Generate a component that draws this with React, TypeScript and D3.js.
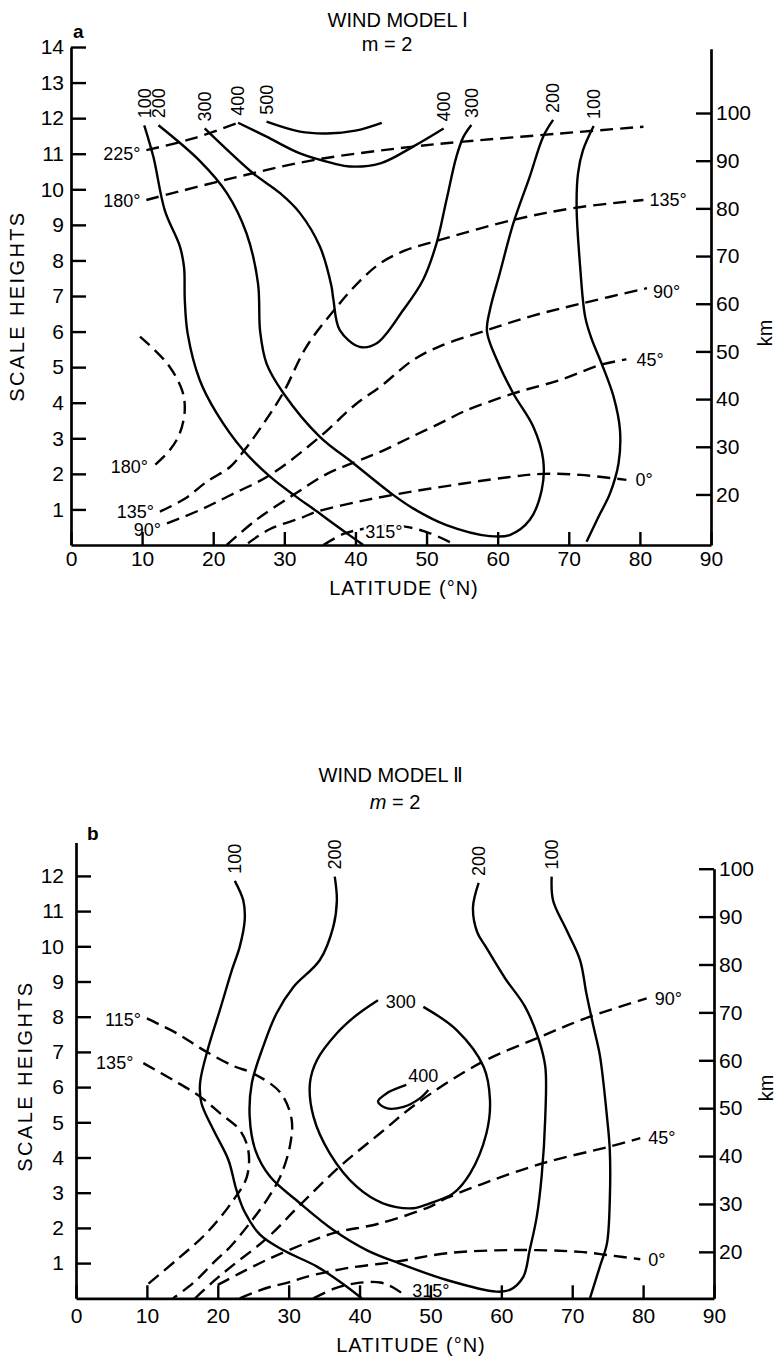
import { useEffect, useRef } from 'react';
import * as d3 from 'd3';

type Pt = [number, number]; // [latitude °N, scale heights]

// ---------- panel a : wind model I ----------
const A_AMP_100_L: Pt[] = [[10.3, 11.8], [11.6, 10.9], [13.2, 9.4], [15.3, 8.4], [15.9, 7.8], [16.0, 6.9], [16.4, 5.95], [18.1, 4.64], [20.5, 3.7], [24.2, 2.67], [28.0, 1.92], [31.3, 1.41], [34.6, 0.94], [37.8, 0.47], [41.1, 0.0]];
const A_AMP_200: Pt[] = [[12.3, 11.8], [18.1, 10.8], [21.9, 9.9], [24.7, 8.75], [26.3, 7.35], [26.6, 6.0], [27.5, 5.1], [29.9, 4.26], [35.0, 3.04], [39.7, 2.3], [45.3, 1.41], [48.1, 1.03], [52.8, 0.56], [58.9, 0.25], [61.7, 0.28], [64.5, 0.7], [66.2, 1.55], [66.4, 2.4], [65.0, 3.33], [62.2, 4.26], [59.9, 5.2], [58.5, 6.0], [58.9, 6.6], [60.3, 7.64], [62.2, 9.04], [64.5, 10.35], [66.4, 11.48], [67.8, 11.95]];
const A_AMP_300: Pt[] = [[18.8, 11.71], [21.0, 11.29], [25.6, 10.45], [29.4, 9.89], [32.2, 9.33], [35.0, 8.39], [36.6, 7.3], [36.9, 6.9], [37.8, 6.04], [40.6, 5.57], [43.0, 5.67], [46.7, 6.6], [49.5, 7.45], [51.4, 8.48], [52.8, 9.7], [54.2, 10.92], [55.2, 11.48], [56.3, 11.81]];
const A_AMP_400: Pt[] = [[23.5, 11.87], [27.5, 11.48], [32.2, 11.01], [36.9, 10.73], [39.2, 10.64], [43.5, 10.73], [48.1, 11.2], [52.4, 11.71]];
const A_AMP_500: Pt[] = [[27.5, 11.9], [32.2, 11.62], [36.0, 11.57], [40.0, 11.65], [43.7, 11.87]];
const A_AMP_100_R: Pt[] = [[73.5, 11.78], [72.0, 11.1], [71.3, 10.45], [71.1, 9.51], [71.6, 7.82], [72.3, 6.42], [73.2, 5.8], [74.6, 5.11], [76.3, 4.17], [77.2, 3.23], [77.0, 2.3], [75.8, 1.45], [74.2, 0.8], [72.5, 0.09]];

const A_PH_225: Pt[] = [[10.6, 11.1], [17.2, 11.43], [23.5, 11.87]];
const A_PH_180_TOP: Pt[] = [[10.6, 9.7], [22.4, 10.3], [34.1, 10.82], [48.1, 11.2], [55.2, 11.34], [68.8, 11.57], [80.5, 11.76]];
const A_PH_135: Pt[] = [[12.5, 0.94], [16.0, 1.3], [19.1, 1.78], [22.4, 2.2], [24.4, 2.67], [27.2, 3.45], [29.9, 4.3], [33.1, 5.57], [37.2, 6.65], [40.5, 7.4], [43.5, 7.92], [47.0, 8.28], [51.4, 8.55], [62.2, 9.14], [70.6, 9.47], [80.5, 9.7]];
const A_PH_90: Pt[] = [[13.5, 0.61], [18.1, 0.98], [22.4, 1.4], [28.0, 1.97], [35.0, 3.04], [40.0, 3.95], [43.5, 4.45], [48.1, 5.2], [52.0, 5.6], [58.5, 6.04], [65.0, 6.45], [72.0, 6.8], [81.0, 7.22]];
const A_PH_45: Pt[] = [[21.9, 0.0], [26.0, 0.7], [31.3, 1.41], [36.0, 2.0], [40.2, 2.35], [43.5, 2.62], [48.0, 3.05], [52.8, 3.51], [55.2, 3.75], [62.2, 4.26], [68.8, 4.64], [74.4, 5.06], [78.1, 5.22]];
const A_PH_0: Pt[] = [[24.9, 0.05], [28.0, 0.45], [32.2, 0.75], [34.6, 0.94], [40.0, 1.2], [45.3, 1.41], [55.2, 1.73], [62.0, 1.92], [66.4, 2.0], [71.6, 1.97], [78.1, 1.83]];
const A_PH_315: Pt[] = [[35.5, 0.0], [38.3, 0.31], [41.0, 0.45], [44.0, 0.55], [47.2, 0.51], [50.5, 0.33], [53.5, 0.06]];
const A_PH_180_LOW: Pt[] = [[9.7, 5.86], [13.5, 5.11], [15.6, 4.36], [16.0, 3.8], [15.3, 3.14], [13.9, 2.67], [11.8, 2.25]];

// ---------- panel b : wind model II ----------
const B_AMP_100_L: Pt[] = [[22.4, 11.86], [23.6, 11.3], [23.8, 10.75], [23.1, 9.99], [22.0, 9.33], [20.3, 8.19], [18.7, 7.15], [17.5, 6.11], [17.7, 5.54], [19.4, 4.78], [21.5, 3.93], [22.6, 3.1], [23.8, 2.45], [26.0, 1.8], [29.2, 1.37], [34.0, 0.9], [38.2, 0.33], [40.3, 0.0]];
const B_AMP_200: Pt[] = [[36.5, 11.98], [36.8, 11.3], [36.3, 10.56], [34.4, 9.61], [30.7, 8.85], [28.3, 8.1], [26.4, 7.15], [24.8, 6.11], [24.5, 5.16], [25.3, 4.21], [27.4, 3.45], [31.6, 2.7], [36.3, 1.94], [41.0, 1.37], [45.5, 1.0], [52.3, 0.52], [59.3, 0.19], [61.2, 0.24], [63.1, 0.61], [64.0, 1.37], [65.0, 2.32], [65.7, 3.5], [66.2, 5.16], [66.2, 6.58], [65.2, 7.4], [63.3, 8.3], [60.5, 9.1], [57.8, 9.99], [56.6, 10.4], [56.0, 11.1], [56.8, 11.8]];
const B_AMP_100_R: Pt[] = [[67.1, 11.98], [67.3, 11.3], [69.2, 10.46], [71.1, 9.61], [72.0, 8.66], [73.0, 7.72], [73.9, 6.9], [74.9, 5.16], [75.3, 4.21], [75.3, 2.79], [74.9, 1.56], [73.9, 0.9], [72.5, 0.0]];
const B_AMP_300: Pt[] = [[42.6, 8.47], [39.6, 8.05], [36.8, 7.53], [34.0, 6.77], [33.0, 6.11], [33.5, 5.16], [35.8, 4.12], [39.6, 3.17], [43.3, 2.7], [47.6, 2.56], [49.9, 2.7], [53.2, 2.98], [55.6, 3.55], [57.9, 4.69], [58.4, 5.63], [57.5, 6.58], [53.7, 7.62], [49.0, 8.28]];
const B_AMP_400: Pt[] = [[46.6, 6.06], [43.8, 5.82], [42.6, 5.59], [43.8, 5.4], [46.2, 5.44], [48.5, 5.68], [49.7, 5.92]];

const B_PH_115: Pt[] = [[10.0, 7.95], [14.2, 7.53], [18.0, 7.05], [22.2, 6.6], [25.0, 6.39], [28.8, 5.85], [30.4, 5.1], [30.2, 4.35], [28.8, 3.45], [26.9, 2.79], [24.5, 2.13], [21.7, 1.45], [19.8, 1.09], [16.5, 0.43], [13.7, 0.0]];
const B_PH_135: Pt[] = [[9.5, 6.68], [13.7, 6.2], [17.5, 5.73], [20.3, 5.26], [23.1, 4.78], [24.3, 4.21], [24.1, 3.45], [22.2, 2.79], [18.4, 1.85], [14.2, 1.09], [10.0, 0.38]];
const B_PH_90: Pt[] = [[16.8, 0.0], [19.5, 0.5], [22.2, 0.95], [26.9, 1.7], [31.6, 2.65], [37.2, 3.74], [42.9, 4.69], [48.1, 5.54], [57.0, 6.68], [65.5, 7.43], [72.5, 8.0], [80.5, 8.52]];
const B_PH_45: Pt[] = [[20.0, 0.38], [23.0, 0.7], [27.0, 1.1], [31.6, 1.5], [36.3, 1.85], [42.9, 2.13], [49.9, 2.6], [52.3, 2.85], [58.0, 3.3], [65.9, 3.84], [75.3, 4.31], [79.6, 4.55]];
const B_PH_0: Pt[] = [[23.1, 0.0], [27.0, 0.3], [30.0, 0.45], [32.5, 0.61], [38.0, 0.85], [45.2, 1.04], [52.3, 1.28], [61.7, 1.37], [71.1, 1.32], [74.9, 1.23], [79.6, 1.11]];
const B_PH_315: Pt[] = [[33.5, 0.0], [36.5, 0.28], [39.6, 0.43], [42.9, 0.45], [44.8, 0.3], [46.6, 0.05]];

// ---------- ticks ----------
const LAT_TICKS = [0, 10, 20, 30, 40, 50, 60, 70, 80, 90];
const A_H_TICKS = [1, 2, 3, 4, 5, 6, 7, 8, 9, 10, 11, 12, 13, 14];
const B_H_TICKS = [1, 2, 3, 4, 5, 6, 7, 8, 9, 10, 11, 12];
const KM_TICKS = [20, 30, 40, 50, 60, 70, 80, 90, 100];

const FONT = '"Liberation Sans", Arial, Helvetica, sans-serif';

type Where = 'start' | 'end' | 'top-start' | 'top-end' | 'gap' | 'mid';
interface Lab { text: string; at: Where; left?: boolean; dx?: number; dy?: number }
interface Series { pts: Pt[]; dashed?: boolean; labels: Lab[] }

const A_SERIES: Series[] = [
  { pts: A_AMP_100_L, labels: [{ text: '100', at: 'top-start' }] },
  { pts: A_AMP_200, labels: [{ text: '200', at: 'top-start' }, { text: '200', at: 'top-end' }] },
  { pts: A_AMP_300, labels: [{ text: '300', at: 'top-start' }, { text: '300', at: 'top-end' }] },
  { pts: A_AMP_400, labels: [{ text: '400', at: 'top-start' }, { text: '400', at: 'top-end' }] },
  { pts: A_AMP_500, labels: [{ text: '500', at: 'top-start' }] },
  { pts: A_AMP_100_R, labels: [{ text: '100', at: 'top-start' }] },
  { pts: A_PH_225, dashed: true, labels: [{ text: '225°', at: 'start', left: true, dy: 4 }] },
  { pts: A_PH_180_TOP, dashed: true, labels: [{ text: '180°', at: 'start', left: true, dy: 1 }] },
  { pts: A_PH_135, dashed: true, labels: [{ text: '135°', at: 'start', left: true }, { text: '135°', at: 'end' }] },
  { pts: A_PH_90, dashed: true, labels: [{ text: '90°', at: 'start', left: true, dy: 6 }, { text: '90°', at: 'end', dy: 4 }] },
  { pts: A_PH_45, dashed: true, labels: [{ text: '45°', at: 'end', dx: 4 }] },
  { pts: A_PH_0, dashed: true, labels: [{ text: '0°', at: 'end', dx: 3 }] },
  { pts: A_PH_315, dashed: true, labels: [{ text: '315°', at: 'mid', dy: 6 }] },
  { pts: A_PH_180_LOW, dashed: true, labels: [{ text: '180°', at: 'end', left: true, dx: -1, dy: 2 }] },
];

const B_SERIES: Series[] = [
  { pts: B_AMP_100_L, labels: [{ text: '100', at: 'top-start' }] },
  { pts: B_AMP_200, labels: [{ text: '200', at: 'top-start' }, { text: '200', at: 'top-end' }] },
  { pts: B_AMP_100_R, labels: [{ text: '100', at: 'top-start' }] },
  { pts: B_AMP_300, labels: [{ text: '300', at: 'gap', dy: -2 }] },
  { pts: B_AMP_400, labels: [{ text: '400', at: 'start', dx: -4, dy: -9 }] },
  { pts: B_PH_115, dashed: true, labels: [{ text: '115°', at: 'start', left: true, dy: 1 }] },
  { pts: B_PH_135, dashed: true, labels: [{ text: '135°', at: 'start', left: true, dx: -4 }] },
  { pts: B_PH_90, dashed: true, labels: [{ text: '90°', at: 'end', dx: 2 }] },
  { pts: B_PH_45, dashed: true, labels: [{ text: '45°', at: 'end', dx: 2 }] },
  { pts: B_PH_0, dashed: true, labels: [{ text: '0°', at: 'end', dx: 2 }] },
  { pts: B_PH_315, dashed: true, labels: [{ text: '315°', at: 'end', dy: -6 }] },
];

interface PanelCfg {
  letter: string;
  title: string;
  italicM: boolean;
  x0: number; x1: number;
  yBase: number; pxPerH: number; hMax: number;
  hTicks: number[];
  kmBase: number; kmPerH: number; kmTopH: number;
  xPad: number; yPad: number;
  titleX: number; titleY: number; mX: number; mY: number;
  letterX: number; letterY: number;
  yLabX: number; yLabY: number;
  xLabX: number; xLabY: number;
  kmX: number; kmY: number;
}

const PANEL_A: PanelCfg = {
  letter: 'a', title: 'WIND MODEL Ⅰ', italicM: false,
  x0: 71, x1: 711, yBase: 545, pxPerH: 35.57, hMax: 14, hTicks: A_H_TICKS,
  kmBase: 9.4, kmPerH: 7.46, kmTopH: 13.95,
  xPad: 6, yPad: 7,
  titleX: 398, titleY: 27, mX: 387, mY: 51,
  letterX: 73, letterY: 38,
  yLabX: 17, yLabY: 306, xLabX: 404, xLabY: 595, kmX: 765, kmY: 333,
};

const PANEL_B: PanelCfg = {
  letter: 'b', title: 'WIND MODEL Ⅱ', italicM: true,
  x0: 76, x1: 714, yBase: 1298.3, pxPerH: 35.2, hMax: 12.95, hTicks: B_H_TICKS,
  kmBase: 10.3, kmPerH: 7.35, kmTopH: (100 - 10.3) / 7.35,
  xPad: 10, yPad: 12,
  titleX: 391, titleY: 782, mX: 395, mY: 809,
  letterX: 87, letterY: 840,
  yLabX: 25, yLabY: 1076, xLabX: 411, xLabY: 1352, kmX: 766, kmY: 1088,
};

function styleAxis(g: d3.Selection<SVGGElement, unknown, null, undefined>) {
  g.attr('font-size', null).attr('font-family', null);
  g.select('.domain').attr('stroke', '#000').attr('stroke-width', 2.7);
  g.selectAll('.tick line').attr('stroke', '#000').attr('stroke-width', 2.4);
  g.selectAll('.tick text').attr('font-size', 21).attr('font-family', FONT).attr('fill', '#000');
}

function Panel({ cfg, series }: { cfg: PanelCfg; series: Series[] }) {
  const xRef = useRef<SVGGElement>(null);
  const yRef = useRef<SVGGElement>(null);
  const kmRef = useRef<SVGGElement>(null);

  const x = d3.scaleLinear().domain([0, 90]).range([cfg.x0, cfg.x1]);
  const y = d3.scaleLinear().domain([0, cfg.hMax]).range([cfg.yBase, cfg.yBase - cfg.pxPerH * cfg.hMax]);
  const km = d3.scaleLinear()
    .domain([cfg.kmBase, cfg.kmBase + cfg.kmPerH * cfg.kmTopH])
    .range([cfg.yBase, y(cfg.kmTopH)]);

  useEffect(() => {
    if (!xRef.current || !yRef.current || !kmRef.current) return;
    const gx = d3.select(xRef.current);
    gx.call(d3.axisBottom(x).tickValues(LAT_TICKS).tickSize(-13).tickSizeOuter(0).tickPadding(cfg.xPad));
    styleAxis(gx);
    const gy = d3.select(yRef.current);
    gy.call(d3.axisLeft(y).tickValues(cfg.hTicks).tickSizeInner(-15).tickSizeOuter(0).tickPadding(cfg.yPad));
    styleAxis(gy);
    const gk = d3.select(kmRef.current);
    gk.call(d3.axisRight(km).tickValues(KM_TICKS).tickSizeInner(-15).tickSizeOuter(0).tickPadding(5));
    styleAxis(gk);
  });

  const line = d3.line<Pt>()
    .x((d) => x(d[0]))
    .y((d) => y(d[1]))
    .curve(d3.curveCatmullRom.alpha(0.5));

  const labels: JSX.Element[] = [];
  series.forEach((s, i) => {
    s.labels.forEach((l, j) => {
      const first = s.pts[0];
      const last = s.pts[s.pts.length - 1];
      const dx = l.dx ?? 0;
      const dy = l.dy ?? 0;
      const key = `${i}-${j}`;
      const common = { fontFamily: FONT, fontSize: 18, fill: '#000' };
      if (l.at === 'top-start' || l.at === 'top-end') {
        const p = l.at === 'top-start' ? first : last;
        const px = x(p[0]) + dx;
        const py = y(p[1]) - 7 + dy;
        labels.push(
          <text key={key} {...common} transform={`translate(${px},${py}) rotate(-90)`} dy="0.35em" textAnchor="start">{l.text}</text>,
        );
      } else if (l.at === 'start' || l.at === 'end') {
        const p = l.at === 'start' ? first : last;
        const off = l.left ? -6 : 6;
        labels.push(
          <text key={key} {...common} x={x(p[0]) + off + dx} y={y(p[1]) + dy} dy="0.35em" textAnchor={l.left ? 'end' : 'start'}>{l.text}</text>,
        );
      } else if (l.at === 'gap') {
        labels.push(
          <text key={key} {...common} x={(x(first[0]) + x(last[0])) / 2 + dx} y={(y(first[1]) + y(last[1])) / 2 + dy} dy="0.35em" textAnchor="middle">{l.text}</text>,
        );
      } else {
        const top = s.pts.reduce((a, b) => (b[1] > a[1] ? b : a));
        labels.push(
          <text key={key} {...common} x={x(top[0]) + dx} y={y(top[1]) + dy} dy="0.35em" textAnchor="middle"
            stroke="#fff" strokeWidth={5} paintOrder="stroke" strokeLinejoin="round">{l.text}</text>,
        );
      }
    });
  });

  return (
    <g>
      <text x={cfg.titleX} y={cfg.titleY} textAnchor="middle" fontFamily={FONT} fontSize={20}>{cfg.title}</text>
      <text x={cfg.mX} y={cfg.mY} textAnchor="middle" fontFamily={FONT} fontSize={20}>
        <tspan fontStyle={cfg.italicM ? 'italic' : 'normal'}>m</tspan> = 2
      </text>
      <text x={cfg.letterX} y={cfg.letterY} fontFamily={FONT} fontSize={19} fontWeight="bold">{cfg.letter}</text>
      <text transform={`translate(${cfg.yLabX},${cfg.yLabY}) rotate(-90)`} dy="0.35em" textAnchor="middle"
        fontFamily={FONT} fontSize={20} letterSpacing={2.4}>SCALE HEIGHTS</text>
      <text x={cfg.xLabX} y={cfg.xLabY} textAnchor="middle" fontFamily={FONT} fontSize={20} letterSpacing={1}>LATITUDE (°N)</text>
      <text transform={`translate(${cfg.kmX},${cfg.kmY}) rotate(-90)`} dy="0.35em" textAnchor="middle"
        fontFamily={FONT} fontSize={20}>km</text>

      {series.map((s, i) => (
        <path key={i} d={line(s.pts) ?? ''} fill="none" stroke="#000" strokeWidth={2.4}
          strokeDasharray={s.dashed ? '13,7' : undefined} strokeLinecap="butt" strokeLinejoin="round" />
      ))}
      {labels}

      <g ref={xRef} transform={`translate(0,${cfg.yBase})`} />
      <g ref={yRef} transform={`translate(${cfg.x0},0)`} />
      <g ref={kmRef} transform={`translate(${cfg.x1},0)`} />
    </g>
  );
}

export default function App() {
  return (
    <div style={{ position: 'absolute', left: 0, top: 0 }}>
      <svg width={778} height={1357} style={{ display: 'block', background: '#fff' }}>
        <Panel cfg={PANEL_A} series={A_SERIES} />
        <Panel cfg={PANEL_B} series={B_SERIES} />
      </svg>
    </div>
  );
}
